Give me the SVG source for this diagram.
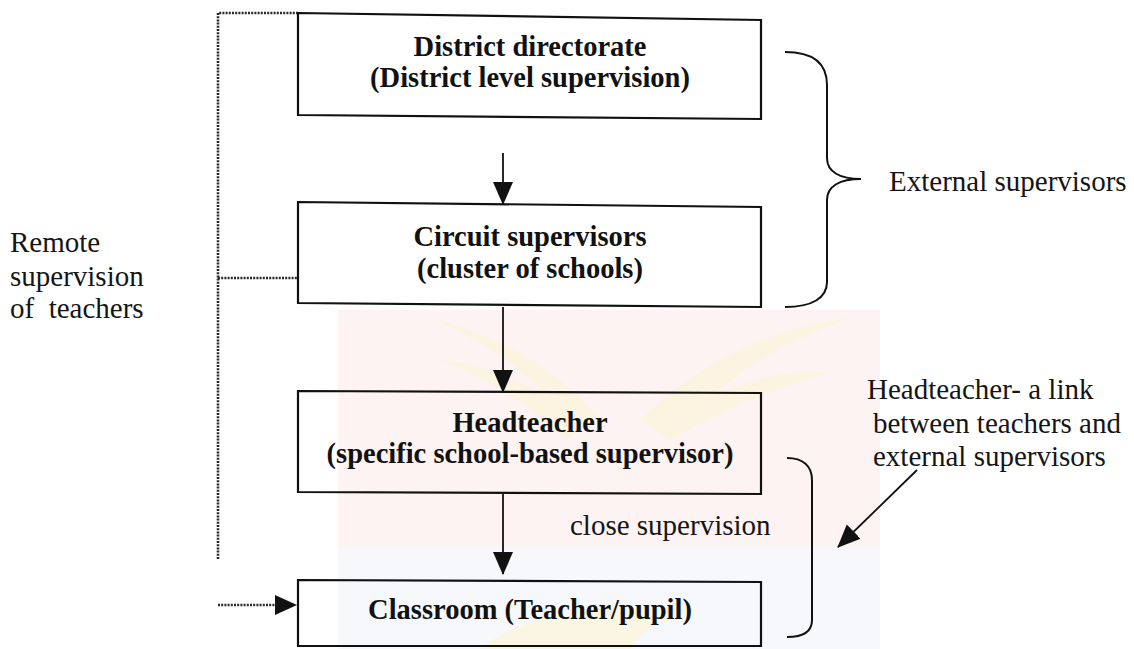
<svg xmlns="http://www.w3.org/2000/svg" width="1134" height="649" viewBox="0 0 1134 649">
  <style>
    .box { fill: none; stroke: #111; stroke-width: 2.2; }
    .bold { font-family: "Liberation Serif", "Times New Roman", serif; font-weight: bold; font-size: 28.5px; fill: #111; text-anchor: middle; }
    .reg { font-family: "Liberation Serif", "Times New Roman", serif; font-size: 29px; fill: #151515; }
    .flow { fill: none; stroke: #111; stroke-width: 1.8; }
    .dot { fill: none; stroke: #2a2a2a; stroke-width: 2.6; stroke-dasharray: 2 1.2; }
    .brace { fill: none; stroke: #111; stroke-width: 2; }
    .wing { fill: #fdf4d6; }
  </style>
  <defs>
    <marker id="head" markerUnits="userSpaceOnUse" markerWidth="23" markerHeight="22" refX="22" refY="10" orient="auto">
      <path d="M0,0 L23,10 L0,20 Z" fill="#111"/>
    </marker>
  </defs>

  <rect width="1134" height="649" fill="#fff"/>

  <!-- faint background seal -->
  <g id="seal">
    <rect x="338" y="310" width="542" height="238" fill="#fdf3f3"/>
    <path class="wing" d="M600,420 C560,370 500,335 430,318 C480,340 520,365 545,395 C510,375 470,362 440,360 C490,380 530,405 565,440 Z" opacity="0.6"/>
    <path class="wing" d="M640,420 C690,370 760,330 850,318 C790,340 745,365 715,395 C755,378 790,370 830,372 C775,388 720,410 670,440 Z" opacity="0.6"/>
    <rect x="338" y="548" width="542" height="101" fill="#f7f8fb"/>
    <path class="wing" d="M480,649 C520,615 600,600 700,610 C660,620 640,635 630,649 Z" opacity="0.6"/>
  </g>

  <!-- connectors -->
  <g id="connectors">
    <line class="flow" x1="503" y1="153" x2="503" y2="204" marker-end="url(#head)"/>
    <line class="flow" x1="503" y1="307" x2="503" y2="392" marker-end="url(#head)"/>
    <line class="flow" x1="503" y1="494" x2="503" y2="574" marker-end="url(#head)"/>
    <!-- remote supervision dotted links -->
    <polyline class="dot" points="298,13 218,13 218,560"/>
    <line class="dot" x1="218" y1="278" x2="298" y2="278"/>
    <line class="dot" x1="218" y1="605" x2="278" y2="605"/>
    <path d="M275,595 L297,605 L275,615 Z" fill="#111"/>
    <!-- pointer to the lower bracket -->
    <line class="flow" x1="917" y1="470" x2="838" y2="547" marker-end="url(#head)"/>
  </g>

  <g id="district">
    <polygon class="box" points="298,13 761,20 761,119 298,115"/>
    <text class="bold" x="530" y="56">District directorate</text>
    <text class="bold" x="530" y="87">(District level supervision)</text>
  </g>

  <g id="circuit">
    <polygon class="box" points="298,202 761,207 761,307 298,303"/>
    <text class="bold" x="530" y="246">Circuit supervisors</text>
    <text class="bold" x="530" y="278">(cluster of schools)</text>
  </g>

  <g id="headteacher">
    <polygon class="box" points="298,391 761,393 761,494 298,492"/>
    <text class="bold" x="530" y="432">Headteacher</text>
    <text class="bold" x="530" y="463">(specific school-based supervisor)</text>
  </g>

  <g id="classroom">
    <polygon class="box" points="298,580 761,582 761,646 298,646"/>
    <text class="bold" x="530" y="619">Classroom (Teacher/pupil)</text>
  </g>

  <g id="close-label">
    <text class="reg" x="570" y="535">close supervision</text>
  </g>

  <g id="remote-label">
    <text class="reg" x="10" y="252">Remote</text>
    <text class="reg" x="10" y="286">supervision</text>
    <text class="reg" x="10" y="318" xml:space="preserve">of  teachers</text>
  </g>

  <g id="external">
    <path class="brace" d="M785,52 C812,52 827,62 827,85 L827,158 C827,172 840,179 861,179 C840,179 827,186 827,200 L827,282 C827,298 812,307 785,307"/>
    <text class="reg" x="889" y="191">External supervisors</text>
  </g>

  <g id="link">
    <path class="brace" d="M787,458 C803,458 812,466 812,480 L812,620 C812,632 803,637 787,637"/>
    <text class="reg" x="867" y="399">Headteacher- a link</text>
    <text class="reg" x="873" y="433">between teachers and</text>
    <text class="reg" x="873" y="466">external supervisors</text>
  </g>
</svg>
